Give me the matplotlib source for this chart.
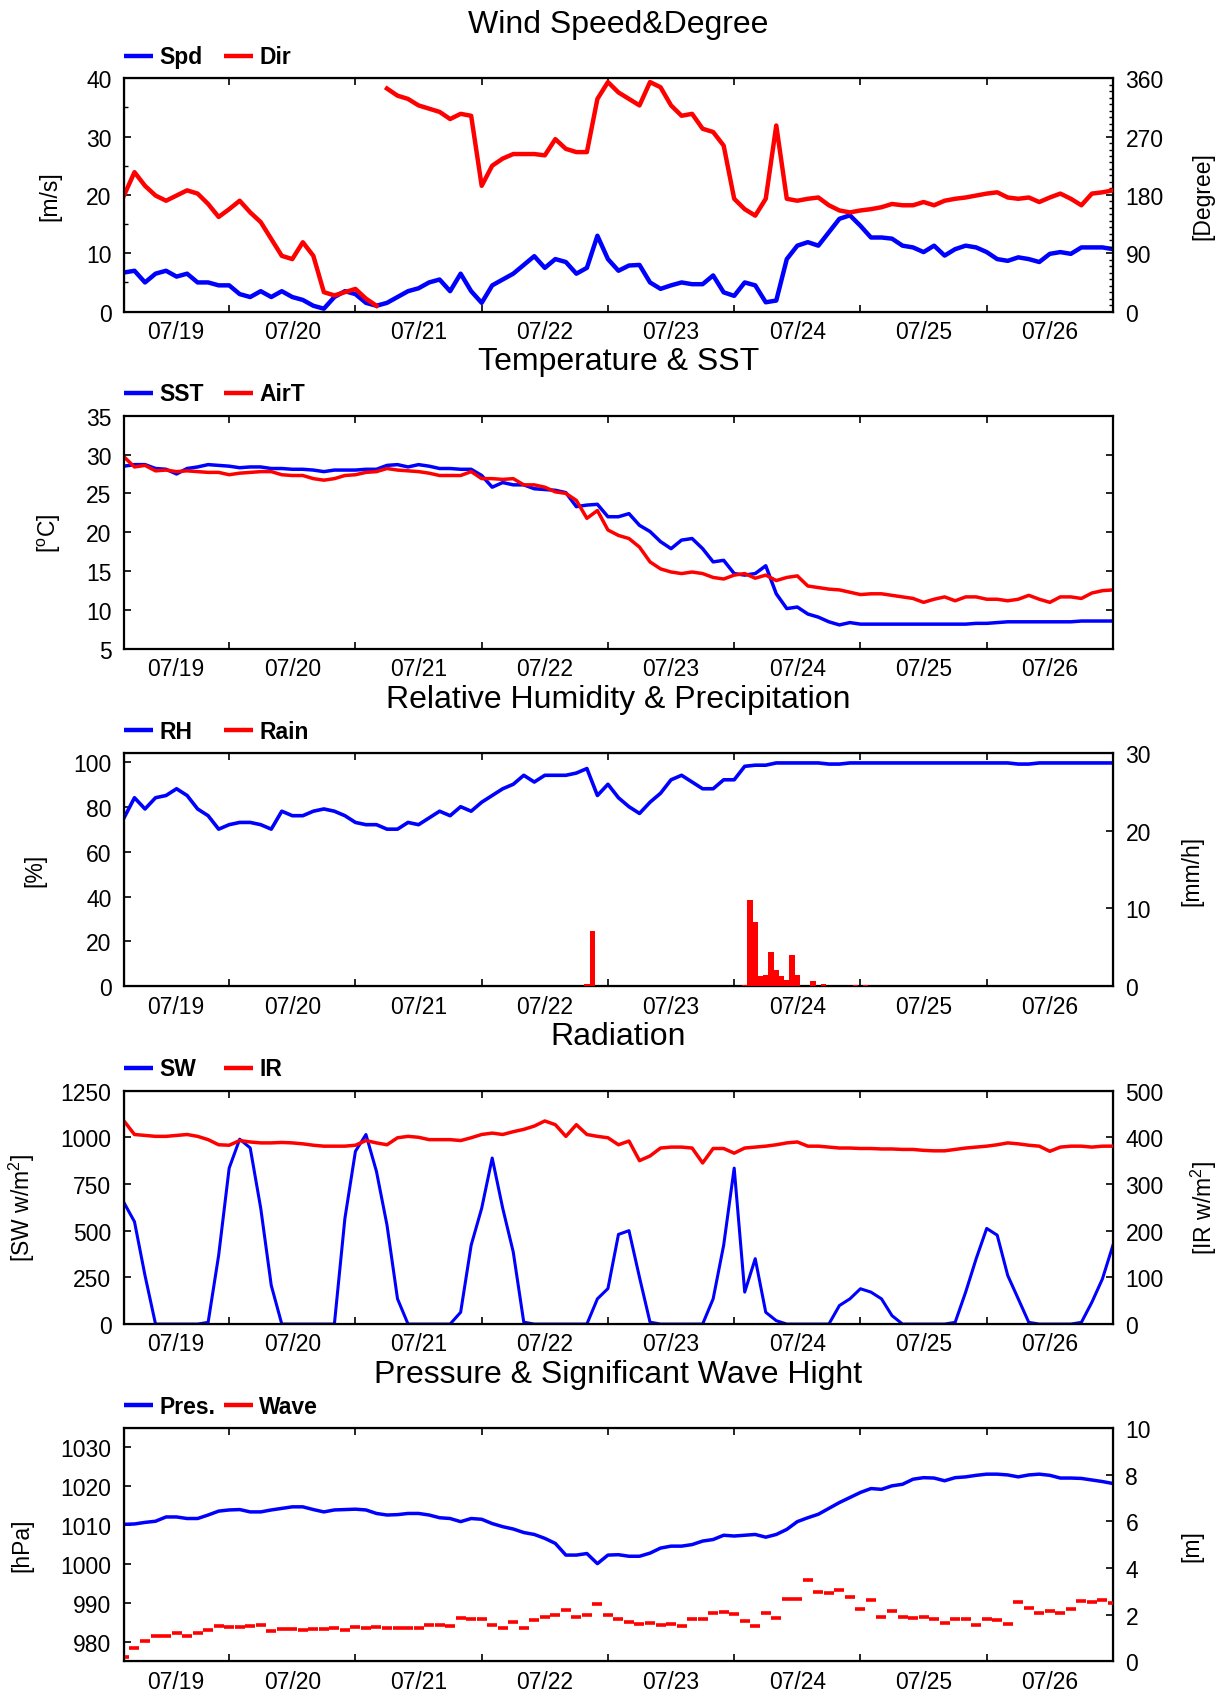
import numpy as np
import matplotlib
matplotlib.use("Agg")
import matplotlib.pyplot as plt
from matplotlib.lines import Line2D
from matplotlib.ticker import FixedLocator, FixedFormatter, MultipleLocator, NullFormatter

plt.rcParams['font.family'] = ['Liberation Sans', 'DejaVu Sans']
plt.rcParams['mathtext.fontset'] = 'custom'
plt.rcParams['mathtext.rm'] = 'Liberation Sans'
plt.rcParams['mathtext.it'] = 'Liberation Sans:italic'

# time axis: days since 07/19 00:00, readings every 2 h from 07/19 04:00
t = 1 / 6 + np.arange(95) / 12
day_labels = ['07/19', '07/20', '07/21', '07/22', '07/23', '07/24', '07/25', '07/26']

spd = [6.7, 7.0, 5.0, 6.5, 7.0, 6.0, 6.5, 5.0, 5.0, 4.5,
       4.5, 3.0, 2.5, 3.5, 2.5, 3.5, 2.5, 2.0, 1.0, 0.5,
       2.5, 3.5, 3.0, 1.5, 1.0, 1.5, 2.5, 3.5, 4.0, 5.0,
       5.5, 3.5, 6.5, 3.5, 1.5, 4.5, 5.5, 6.5, 8.0, 9.5,
       7.5, 9.0, 8.5, 6.5, 7.5, 13.0, 9.0, 7.0, 7.9, 8.0,
       5.0, 3.9, 4.5, 5.0, 4.7, 4.7, 6.2, 3.3, 2.7, 5.0,
       4.5, 1.6, 1.9, 9.0, 11.3, 11.9, 11.3, 13.6, 15.9, 16.5,
       14.7, 12.7, 12.7, 12.5, 11.3, 11.0, 10.2, 11.3, 9.6, 10.7,
       11.3, 11.0, 10.2, 9.0, 8.7, 9.3, 9.0, 8.5, 9.9, 10.2,
       9.9, 11.0, 11.0, 11.0, 10.7]
wdir = [179, 215, 194, 179, 171, 179, 187, 182, 166, 146,
        158, 171, 153, 138, 112, 86, 81, 107, 86, 30,
        25, 30, 35, 20, 9, 344, 333, 328, 318, 313,
        308, 297, 305, 302, 194, 225, 236, 243, 243, 243,
        241, 266, 251, 246, 246, 328, 354, 338, 328, 318,
        354, 346, 318, 302, 305, 282, 277, 256, 174, 158,
        148, 174, 287, 174, 171, 174, 176, 164, 156, 153,
        156, 158, 161, 166, 164, 164, 169, 164, 171, 174,
        176, 179, 182, 184, 176, 174, 176, 169, 176, 182,
        174, 164, 182, 184, 187]

sst = [28.5, 28.7, 28.7, 28.2, 28.1, 27.5, 28.2, 28.4, 28.7, 28.6,
       28.5, 28.3, 28.4, 28.4, 28.2, 28.2, 28.1, 28.1, 28.0, 27.8,
       28.0, 28.0, 28.0, 28.1, 28.1, 28.6, 28.7, 28.4, 28.7, 28.5,
       28.2, 28.2, 28.1, 28.1, 27.3, 25.8, 26.4, 26.1, 26.1, 25.6,
       25.5, 25.4, 25.1, 23.3, 23.5, 23.6, 22.0, 22.0, 22.4, 20.9,
       20.1, 18.8, 17.9, 19.0, 19.2, 17.9, 16.2, 16.4, 14.7, 14.5,
       14.7, 15.7, 12.1, 10.2, 10.4, 9.5, 9.1, 8.5, 8.1, 8.4,
       8.2, 8.2, 8.2, 8.2, 8.2, 8.2, 8.2, 8.2, 8.2, 8.2,
       8.2, 8.3, 8.3, 8.4, 8.5, 8.5, 8.5, 8.5, 8.5, 8.5,
       8.5, 8.6, 8.6, 8.6, 8.6]
airt = [29.7, 28.4, 28.6, 27.9, 28.0, 27.8, 27.9, 27.8, 27.7, 27.7,
        27.4, 27.6, 27.7, 27.8, 27.8, 27.4, 27.3, 27.3, 26.9, 26.7,
        26.9, 27.3, 27.4, 27.7, 27.8, 28.2, 28.0, 27.9, 27.8, 27.6,
        27.3, 27.3, 27.3, 27.8, 26.9, 26.9, 26.8, 26.9, 26.1, 26.1,
        25.8, 25.2, 25.0, 24.1, 21.8, 22.8, 20.3, 19.6, 19.2, 18.1,
        16.2, 15.3, 14.9, 14.7, 14.9, 14.7, 14.2, 14.0, 14.5, 14.7,
        14.1, 14.5, 13.8, 14.2, 14.4, 13.1, 12.9, 12.7, 12.6, 12.3,
        12.0, 12.1, 12.1, 11.9, 11.7, 11.5, 11.0, 11.4, 11.7, 11.2,
        11.7, 11.7, 11.4, 11.4, 11.2, 11.4, 11.9, 11.4, 11.0, 11.7,
        11.7, 11.5, 12.2, 12.5, 12.6]

rh = [75, 84, 79, 84, 85, 88, 85, 79, 76, 70,
      72, 73, 73, 72, 70, 78, 76, 76, 78, 79,
      78, 76, 73, 72, 72, 70, 70, 73, 72, 75,
      78, 76, 80, 78, 82, 85, 88, 90, 94, 91,
      94, 94, 94, 95, 97, 85, 90, 84, 80, 77,
      82, 86, 92, 94, 91, 88, 88, 92, 92, 98,
      98.5, 98.5, 99.5, 99.5, 99.5, 99.5, 99.5, 99, 99, 99.5,
      99.5, 99.5, 99.5, 99.5, 99.5, 99.5, 99.5, 99.5, 99.5, 99.5,
      99.5, 99.5, 99.5, 99.5, 99.5, 99, 99, 99.5, 99.5, 99.5,
      99.5, 99.5, 99.5, 99.5, 99.5]
# hourly rain, hour counted from 07/19 00:00
rain_hour = [92, 93, 122, 123, 124, 125, 126, 127, 128, 129, 130, 131, 132, 135, 137, 143, 145]
rain = [0.3, 7.1, 0.2, 11.1, 8.2, 1.3, 1.4, 4.4, 2.1, 1.3, 0.8, 4.0, 1.5, 0.7, 0.3, 0.2, 0.2]

sw = [650, 548, 260, 0, 0, 0, 0, 0, 9, 368,
      835, 990, 943, 620, 207, 0, 0, 0, 0, 0,
      0, 566, 925, 1015, 817, 530, 135, 0, 0, 0,
      0, 0, 63, 422, 620, 889, 620, 386, 10, 0,
      0, 0, 0, 0, 0, 135, 190, 480, 500, 250,
      10, 0, 0, 0, 0, 0, 135, 422, 835, 171,
      350, 63, 18, 0, 0, 0, 0, 0, 99, 135,
      189, 171, 135, 45, 0, 0, 0, 0, 0, 9,
      171, 350, 512, 476, 260, 135, 9, 0, 0, 0,
      0, 9, 117, 242, 422]
ir = [435, 406, 404, 402, 402, 404, 406, 402, 395, 384,
      383, 393, 390, 388, 388, 389, 388, 386, 383, 381,
      381, 381, 383, 393, 388, 384, 399, 402, 400, 395,
      395, 395, 393, 399, 406, 409, 406, 412, 417, 424,
      435, 427, 402, 427, 406, 402, 399, 384, 392, 350,
      360, 377, 379, 379, 377, 345, 376, 376, 366, 377,
      379, 381, 384, 388, 390, 381, 381, 379, 377, 377,
      376, 376, 375, 375, 374, 374, 372, 371, 371, 374,
      377, 379, 381, 384, 388, 386, 383, 381, 370, 379,
      381, 381, 379, 381, 381]

pres = [1010.2, 1010.3, 1010.7, 1011.0, 1012.1, 1012.1, 1011.7, 1011.7, 1012.6, 1013.6,
        1013.9, 1014.0, 1013.4, 1013.4, 1013.9, 1014.3, 1014.7, 1014.7, 1014.0, 1013.4,
        1013.9, 1014.0, 1014.1, 1013.9, 1013.0, 1012.6, 1012.7, 1013.0, 1013.0, 1012.6,
        1011.9, 1011.7, 1010.9, 1011.7, 1011.5, 1010.4, 1009.6, 1009.0, 1008.1, 1007.6,
        1006.6, 1005.3, 1002.3, 1002.3, 1002.7, 1000.1, 1002.3, 1002.4, 1002.0, 1002.0,
        1002.8, 1004.1, 1004.6, 1004.6, 1005.0, 1005.9, 1006.3, 1007.4, 1007.2, 1007.4,
        1007.6, 1006.9, 1007.6, 1008.9, 1010.9, 1011.9, 1012.8, 1014.3, 1015.8, 1017.1,
        1018.4, 1019.4, 1019.2, 1020.1, 1020.5, 1021.8, 1022.2, 1022.1, 1021.4, 1022.2,
        1022.4, 1022.8, 1023.1, 1023.1, 1022.9, 1022.4, 1022.9, 1023.1, 1022.8, 1022.1,
        1022.1, 1022.0, 1021.6, 1021.2, 1020.7]
wave = [0.17, 0.56, 0.89, 1.08, 1.10, 1.21, 1.10, 1.22, 1.32, 1.51,
        1.48, 1.48, 1.51, 1.54, 1.28, 1.39, 1.39, 1.36, 1.39, 1.39,
        1.42, 1.36, 1.46, 1.42, 1.46, 1.42, 1.42, 1.42, 1.42, 1.54,
        1.56, 1.51, 1.85, 1.82, 1.82, 1.54, 1.42, 1.68, 1.42, 1.79,
        1.89, 1.99, 2.18, 1.89, 1.97, 2.47, 1.99, 1.83, 1.69, 1.58,
        1.66, 1.55, 1.58, 1.52, 1.80, 1.83, 2.05, 2.12, 2.01, 1.72,
        1.52, 2.05, 1.86, 2.69, 2.69, 3.48, 2.98, 2.91, 3.05, 2.77,
        2.24, 2.62, 1.91, 2.15, 1.91, 1.86, 1.91, 1.83, 1.62, 1.81,
        1.81, 1.55, 1.81, 1.76, 1.58, 2.52, 2.29, 2.05, 2.15, 2.05,
        2.26, 2.58, 2.52, 2.62, 2.48]

BLUE = '#0000ff'
RED = '#ff0000'
FS = 16.5


def break_wraps(x, y, lim=180):
    # don't draw a line across the 0/360 jump
    x = np.asarray(x, float)
    y = np.asarray(y, float)
    idx = np.where(np.abs(np.diff(y)) > lim)[0] + 1
    return np.insert(x, idx, np.nan), np.insert(y, idx, np.nan)


def setup_x(ax):
    ax.set_xlim(t[0], 8)
    ax.xaxis.set_major_locator(FixedLocator(range(1, 9)))
    ax.xaxis.set_major_formatter(NullFormatter())
    ax.xaxis.set_minor_locator(FixedLocator([0.58] + [k + 0.5 for k in range(1, 8)]))
    ax.xaxis.set_minor_formatter(FixedFormatter(day_labels))
    ax.tick_params(axis='x', which='major', direction='in', top=True, length=4.7, width=1.2)
    ax.tick_params(axis='x', which='minor', length=0, labelsize=FS, pad=6)
    for s in ax.spines.values():
        s.set_linewidth(1.6)


def setup_y(ax):
    ax.tick_params(axis='y', which='major', direction='in', length=4.7, width=1.2,
                   labelsize=FS, pad=9)
    ax.tick_params(axis='y', which='minor', direction='in', length=2.6, width=1.0)


def add_key(ax, title, names):
    ax.text(0.5, 1.198, title, transform=ax.transAxes, ha='center', va='baseline', fontsize=23)
    spots = [(0.0005, 0.0295, 0.036), (0.101, 0.130, 0.137)]
    for (x0, x1, xt), name, col in zip(spots, names, [BLUE, RED]):
        ax.add_line(Line2D([x0, x1], [1.097, 1.097], transform=ax.transAxes, color=col,
                           lw=3.2, clip_on=False, solid_capstyle='butt'))
        ax.text(xt, 1.0656, name, transform=ax.transAxes, fontsize=16.5,
                fontweight='bold', ha='left', va='baseline')


def ylabel(ax, text, xpos):
    ax.set_ylabel(text, fontsize=FS, va='center', ha='center')
    ax.yaxis.set_label_coords(xpos, 0.5)


fig = plt.figure(figsize=(12.31, 16.99), dpi=100)
L, W, H = 0.1007, 0.8034, 0.1374
bottoms = [0.8160, 0.6174, 0.4189, 0.2201, 0.0216]
axs = [fig.add_axes([L, b, W, H]) for b in bottoms]

# 1: wind
ax = axs[0]
ax.plot(t, spd, color=BLUE, lw=3.2)
ax.set_ylim(0, 40)
ax.yaxis.set_major_locator(MultipleLocator(10))
ax.yaxis.set_minor_locator(MultipleLocator(5))
setup_x(ax)
setup_y(ax)
ylabel(ax, '[m/s]', -0.0753)
ax2 = ax.twinx()
xd, yd = break_wraps(t, wdir)
ax2.plot(xd, yd, color=RED, lw=3.2)
ax2.set_ylim(0, 360)
ax2.yaxis.set_major_locator(MultipleLocator(90))
ax2.yaxis.set_minor_locator(MultipleLocator(10))
setup_y(ax2)
ylabel(ax2, '[Degree]', 1.0914)
add_key(ax, 'Wind Speed&Degree', ['Spd', 'Dir'])

# 2: temperature
ax = axs[1]
ax.plot(t, sst, color=BLUE, lw=2.5)
ax.plot(t, airt, color=RED, lw=2.5)
ax.set_ylim(5, 35)
ax.yaxis.set_major_locator(MultipleLocator(5))
setup_x(ax)
setup_y(ax)
ax.tick_params(axis='y', right=True)
ylabel(ax, r'[$^{\rm o}$C]', -0.0753)
add_key(ax, 'Temperature & SST', ['SST', 'AirT'])

# 3: humidity & rain
ax = axs[2]
ax.plot(t, rh, color=BLUE, lw=2.6)
ax.set_ylim(0, 104)
ax.yaxis.set_major_locator(MultipleLocator(20))
setup_x(ax)
setup_y(ax)
ylabel(ax, '[%]', -0.0898)
ax2 = ax.twinx()
ax2.bar(np.array(rain_hour) / 24, rain, width=1 / 24, color=RED, lw=0)
ax2.set_ylim(0, 30)
ax2.yaxis.set_major_locator(MultipleLocator(10))
setup_y(ax2)
ylabel(ax2, '[mm/h]', 1.0794)
add_key(ax, 'Relative Humidity & Precipitation', ['RH', 'Rain'])

# 4: radiation
ax = axs[3]
ax.plot(t, sw, color=BLUE, lw=2.2)
ax.set_ylim(0, 1250)
ax.yaxis.set_major_locator(MultipleLocator(250))
setup_x(ax)
setup_y(ax)
ylabel(ax, r'[SW w/m$^2$]', -0.1034)
ax2 = ax.twinx()
ax2.plot(t, ir, color=RED, lw=2.5)
ax2.set_ylim(0, 500)
ax2.yaxis.set_major_locator(MultipleLocator(100))
setup_y(ax2)
ylabel(ax2, r'[IR w/m$^2$]', 1.0924)
add_key(ax, 'Radiation', ['SW', 'IR'])

# 5: pressure & wave
ax = axs[4]
ax.plot(t, pres, color=BLUE, lw=2.5)
ax.set_ylim(975, 1035)
ax.yaxis.set_major_locator(MultipleLocator(10))
setup_x(ax)
setup_y(ax)
ylabel(ax, '[hPa]', -0.1034)
ax2 = ax.twinx()
ax2.plot(t, wave, linestyle='none', marker='_', markersize=7, markeredgewidth=2.6, color=RED)
ax2.set_ylim(0, 10)
ax2.yaxis.set_major_locator(MultipleLocator(2))
setup_y(ax2)
ylabel(ax2, '[m]', 1.0794)
add_key(ax, 'Pressure & Significant Wave Hight', ['Pres.', 'Wave'])

fig.savefig('out.png', dpi=100)
